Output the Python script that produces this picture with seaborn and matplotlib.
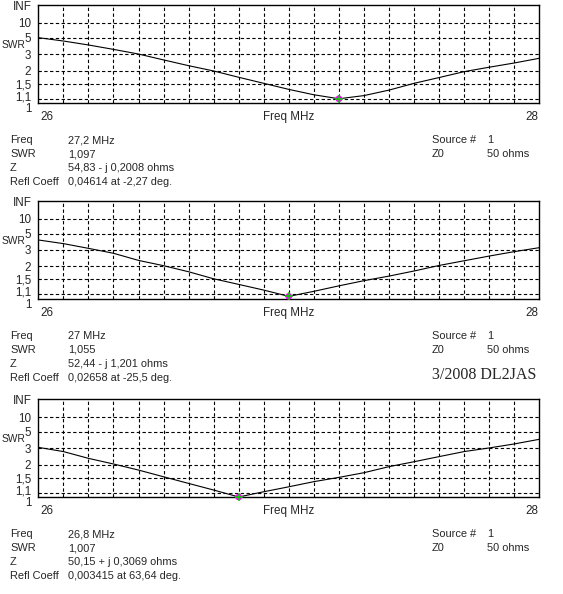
import numpy as np
import pandas as pd
import matplotlib
matplotlib.use("Agg")
import matplotlib.pyplot as plt
import matplotlib.transforms as mtransforms
import seaborn as sns

sns.set_style("white")
plt.rcParams['font.family'] = ['Liberation Sans', 'DejaVu Sans']

# ---------------- data ----------------
freq = [26.0, 26.1, 26.2, 26.3, 26.4, 26.5, 26.6, 26.7, 26.8, 26.9, 27.0,
        27.1, 27.2, 27.3, 27.4, 27.5, 27.6, 27.7, 27.8, 27.9, 28.0]

swr_a = [5.02, 4.46, 3.92, 3.43, 3.01, 2.58, 2.24, 1.98, 1.72, 1.51, 1.33,
         1.19, 1.097, 1.17, 1.31, 1.51, 1.71, 1.95, 2.16, 2.39, 2.69]
swr_b = [4.03, 3.60, 3.14, 2.75, 2.30, 2.03, 1.77, 1.52, 1.35, 1.20, 1.055,
         1.17, 1.31, 1.46, 1.61, 1.80, 2.04, 2.28, 2.56, 2.87, 3.20]
swr_c = [3.08, 2.75, 2.32, 2.03, 1.77, 1.53, 1.33, 1.16, 1.007, 1.12, 1.24,
         1.38, 1.51, 1.67, 1.91, 2.14, 2.42, 2.75, 3.03, 3.39, 3.90]

marker_freq = [27.2, 27.0, 26.8]
marker_swr = [1.097, 1.055, 1.007]

swr_ticks = [1.0, 1.1, 1.5, 2, 3, 5, 10, 1e9]
swr_tick_labels = ["1", "1,1", "1,5", "2", "3", "5", "10", "INF"]
swr_grid = [1.1, 1.5, 2, 3, 5, 10]

info_freq = ["27,2 MHz", "27 MHz", "26,8 MHz"]
info_swr = ["1,097", "1,055", "1,007"]
info_z = ["54,83 - j 0,2008 ohms", "52,44 - j 1,201 ohms", "50,15 + j 0,3069 ohms"]
info_refl = ["0,04614 at -2,27 deg.", "0,02658 at -25,5 deg.", "0,003415 at 63,64 deg."]
row_labels = ["Freq", "SWR", "Z", "Refl Coeff"]

# ---------------- layout ----------------
W, H = 563, 594
fig = plt.figure(figsize=(W / 100, H / 100), dpi=100)
fig.patch.set_facecolor("white")


def fy(y):
    return 1 - y / H


def fx(x):
    return x / W


def fwd(s):
    s = np.asarray(s, dtype=float)
    return (s - 1) / (s + 1)


def inv(r):
    r = np.asarray(r, dtype=float)
    return (1 + r) / np.maximum(1 - r, 1e-12)


panels = [
    (swr_a, 5.0, 103.3),
    (swr_b, 201.0, 299.0),
    (swr_c, 399.3, 497.3),
]
left_px, right_px = 38.3, 539.3
fs = 7.6

for i, (swr, top, bot) in enumerate(panels):
    ax = fig.add_axes([fx(left_px), fy(bot), fx(right_px - left_px), (bot - top) / H])
    df = pd.DataFrame({"freq": freq, "swr": swr})
    ax.set_yscale("function", functions=(fwd, inv))
    for g in swr_grid:
        ax.axhline(g, color="black", lw=0.8, ls=(0, (3, 2.2)), zorder=1)
    for f in freq[1:-1]:
        ax.axvline(f, color="black", lw=0.8, ls=(0, (3, 2.2)), zorder=1)
    sns.lineplot(data=df, x="freq", y="swr", ax=ax, color="black", lw=0.8, zorder=3)
    mdf = pd.DataFrame({"freq": [marker_freq[i]], "swr": [marker_swr[i]]})
    sns.scatterplot(data=mdf, x="freq", y="swr", ax=ax, color="#ff00ff", s=24,
                    edgecolor="none", zorder=4, clip_on=False)
    sns.scatterplot(data=mdf, x="freq", y="swr", ax=ax, color="#00d000", s=30,
                    marker="+", linewidth=1.1, zorder=5, clip_on=False)
    ax.set_xlim(26, 28)
    ax.set_ylim(1.0, 1e9)
    ax.set_yticks(swr_ticks)
    ax.set_yticklabels(swr_tick_labels, fontsize=fs + 0.8)
    ax.tick_params(axis="y", length=0, pad=5)
    ax.figure.canvas.draw()
    labels = ax.get_yticklabels()
    labels[0].set_va("top")
    labels[1].set_transform(labels[1].get_transform() +
                            mtransforms.ScaledTranslation(0, 3 / 100, fig.dpi_scale_trans))
    ax.set_xticks([])
    ax.set_xlabel("")
    ax.set_ylabel("")
    for sp in ax.spines.values():
        sp.set_visible(True)
        sp.set_color("black")
        sp.set_linewidth(1.0)
    # SWR axis name
    fig.text(fx(2), fy(top + 40), "SWR", fontsize=fs - 0.2, ha="left", va="center")
    # x axis labels
    ylab = bot + 14
    fig.text(fx(40), fy(ylab), "26", fontsize=fs + 0.8, ha="left", va="center")
    fig.text(fx(288.5), fy(ylab), "Freq MHz", fontsize=fs + 0.8, ha="center", va="center")
    fig.text(fx(538), fy(ylab), "28", fontsize=fs + 0.8, ha="right", va="center")
    # info block
    y0 = bot + 37
    vals = [info_freq[i], info_swr[i], info_z[i], info_refl[i]]
    for k, (lab, v) in enumerate(zip(row_labels, vals)):
        yy = y0 + 14 * k
        fig.text(fx(10), fy(yy), lab, fontsize=fs + 0.3, ha="left", va="center")
        fig.text(fx(68), fy(yy), v, fontsize=fs + 0.3, ha="left", va="center")
    fig.text(fx(432), fy(y0), "Source #", fontsize=fs + 0.3, ha="left", va="center")
    fig.text(fx(487), fy(y0), "1", fontsize=fs + 0.3, ha="left", va="center")
    fig.text(fx(432), fy(y0 + 14), "Z0", fontsize=fs + 0.3, ha="left", va="center")
    fig.text(fx(487), fy(y0 + 14), "50 ohms", fontsize=fs + 0.3, ha="left", va="center")

fig.text(fx(432), fy(375), "3/2008 DL2JAS", fontsize=11.5, family="Liberation Serif",
         ha="left", va="center")

fig.savefig("out.png", dpi=100, facecolor="white")
